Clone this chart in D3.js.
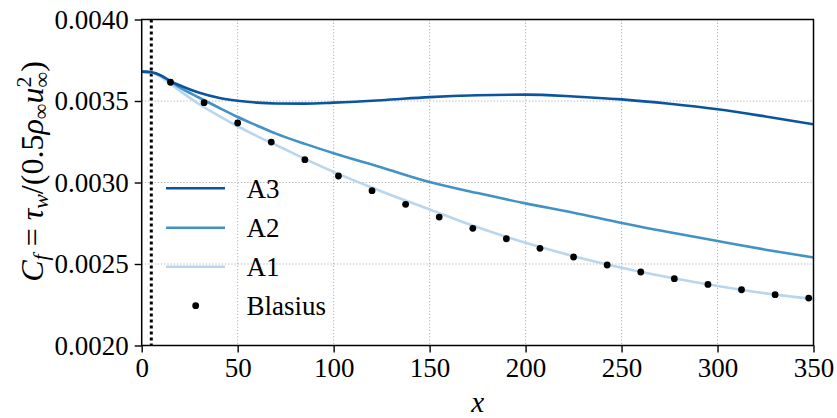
<!DOCTYPE html>
<html>
<head>
<meta charset="utf-8">
<script src="https://cdn.jsdelivr.net/npm/d3@7"></script>
<style>
  html, body { margin: 0; padding: 0; background: #fff; }
  svg { display: block; }
</style>
</head>
<body>
<svg id="chart" width="837" height="418"></svg>
<script>
// ---- data ----
const xTicks = [0, 50, 100, 150, 200, 250, 300, 350];
const yTicks = [0.0020, 0.0025, 0.0030, 0.0035, 0.0040];
const yTickLabels = ["0.0020", "0.0025", "0.0030", "0.0035", "0.0040"];

const curveX = [0, 5, 10, 15, 20, 30, 40, 50, 60, 70, 85, 100, 125, 150, 175, 200, 225, 250, 275, 300, 325, 350];
const A1 = [0.003680, 0.003674, 0.003648, 0.003605, 0.003562, 0.003480, 0.003410, 0.003345, 0.003285, 0.003230, 0.003145, 0.003065, 0.002945, 0.002835, 0.002725, 0.002630, 0.002548, 0.002477, 0.002417, 0.002365, 0.002320, 0.002285];
const A2 = [0.003680, 0.003676, 0.003655, 0.003620, 0.003582, 0.003520, 0.003460, 0.003402, 0.003350, 0.003300, 0.003237, 0.003180, 0.003092, 0.003003, 0.002935, 0.002872, 0.002815, 0.002752, 0.002695, 0.002641, 0.002588, 0.002540];
const A3 = [0.003680, 0.003676, 0.003657, 0.003622, 0.003595, 0.003550, 0.003520, 0.003502, 0.003490, 0.003485, 0.003484, 0.003490, 0.003505, 0.003524, 0.003535, 0.003539, 0.003528, 0.003510, 0.003483, 0.003449, 0.003405, 0.003357];

const blasiusX = [15, 32.5, 50, 67.5, 85, 102.5, 120, 137.5, 155, 172.5, 190, 207.5, 225, 242.5, 260, 277.5, 295, 312.5, 330, 347.5];
const blasiusY = [0.003615, 0.003490, 0.003365, 0.003248, 0.003140, 0.003040, 0.002950, 0.002866, 0.002788, 0.002719, 0.002655, 0.002596, 0.002543, 0.002494, 0.002451, 0.002410, 0.002375, 0.002342, 0.002312, 0.002291];

const markerX = 5;

const seriesColors = {"A3": "#0b559f", "A2": "#4292c6", "A1": "#b9d6ec"};
const seriesData = {"A1": A1, "A2": A2, "A3": A3};

// ---- layout ----
const svg = d3.select("#chart");
const pL = 141.7, pR = 813.5, pT = 19.5, pB = 345.5;
const x = d3.scaleLinear().domain([0, 350]).range([pL, pR]);
const y = d3.scaleLinear().domain([0.0020, 0.0040]).range([pB, pT]);
const FONT = '"Liberation Serif"';

function serif(sel) {
  return sel.attr("font-family", "Liberation Serif").style("font-family", FONT);
}

// grid
const grid = svg.append("g");
grid.selectAll("line.gx").data(xTicks.slice(1, -1)).enter().append("line")
  .attr("x1", d => x(d)).attr("x2", d => x(d)).attr("y1", pT).attr("y2", pB)
  .attr("stroke", "#b0b0b0").attr("stroke-width", 1).attr("stroke-dasharray", "1.2,2");
grid.selectAll("line.gy").data(yTicks.slice(1, -1)).enter().append("line")
  .attr("y1", d => y(d)).attr("y2", d => y(d)).attr("x1", pL).attr("x2", pR)
  .attr("stroke", "#b0b0b0").attr("stroke-width", 1).attr("stroke-dasharray", "1.2,2");

// vertical dotted marker
svg.append("line")
  .attr("x1", x(markerX)).attr("x2", x(markerX)).attr("y1", pT).attr("y2", pB)
  .attr("stroke", "#000").attr("stroke-width", 3).attr("stroke-dasharray", "3,3");

// curves
const line = d3.line().x((d, i) => x(curveX[i])).y(d => y(d)).curve(d3.curveMonotoneX);
["A1", "A2", "A3"].forEach(name => {
  svg.append("path").datum(seriesData[name])
    .attr("d", line).attr("fill", "none")
    .attr("stroke", seriesColors[name]).attr("stroke-width", 2.6);
});

// blasius dots
svg.append("g").selectAll("circle").data(blasiusY).enter().append("circle")
  .attr("cx", (d, i) => x(blasiusX[i])).attr("cy", d => y(d)).attr("r", 3.4).attr("fill", "#000");

// axes
const xAxis = d3.axisBottom(x).tickValues(xTicks).tickSize(7).tickPadding(5).tickFormat(d3.format("d"));
const yAxis = d3.axisLeft(y).tickValues(yTicks).tickSize(7).tickPadding(6).tickFormat((d, i) => yTickLabels[i]);
const gx = svg.append("g").attr("transform", `translate(0,${pB})`).call(xAxis);
const gy = svg.append("g").attr("transform", `translate(${pL},0)`).call(yAxis);
[gx, gy].forEach(g => {
  serif(g).attr("font-size", 27);
  g.select(".domain").remove();
  g.selectAll(".tick line").attr("stroke", "#000").attr("stroke-width", 1.4);
  serif(g.selectAll(".tick text")).attr("font-size", 27).attr("fill", "#000");
});
gx.selectAll(".tick text").attr("dy", "0.72em");

// frame
svg.append("rect").attr("x", pL).attr("y", pT).attr("width", pR - pL).attr("height", pB - pT)
  .attr("fill", "none").attr("stroke", "#000").attr("stroke-width", 1.5);

// axis labels
serif(svg.append("text")).attr("x", (pL + pR) / 2).attr("y", 412)
  .attr("font-size", 29).style("font-style", "italic")
  .attr("text-anchor", "middle").text("x");

const yl = serif(svg.append("text")).attr("font-size", 32)
  .attr("transform", `translate(43,${(pT + pB) / 2 - 11}) rotate(-90)`)
  .attr("text-anchor", "middle");
const sub = 22;
yl.append("tspan").style("font-style", "italic").text("C");
yl.append("tspan").style("font-style", "italic").attr("font-size", sub).attr("dy", 5).text("f");
yl.append("tspan").attr("dy", -5).text(" = ");
yl.append("tspan").style("font-style", "italic").text("τ");
yl.append("tspan").style("font-style", "italic").attr("font-size", sub).attr("dy", 5).text("w");
yl.append("tspan").attr("dy", -5).text("/(0.5");
yl.append("tspan").style("font-style", "italic").text("ρ");
yl.append("tspan").attr("font-size", sub).attr("dy", 5).text("∞");
yl.append("tspan").style("font-style", "italic").attr("dy", -5).text("u");
yl.append("tspan").attr("font-size", sub).attr("dy", -12).text("2");
yl.append("tspan").attr("font-size", sub).attr("dx", -11).attr("dy", 18).text("∞");
yl.append("tspan").attr("dy", -6).text(")");

// legend
const leg = svg.append("g");
const legRows = [
  {name: "A3", y: 188.3}, {name: "A2", y: 227.7}, {name: "A1", y: 266.7}, {name: "Blasius", y: 305.7}
];
legRows.forEach(r => {
  if (r.name === "Blasius") {
    leg.append("circle").attr("cx", 195.7).attr("cy", r.y).attr("r", 3.4).attr("fill", "#000");
  } else {
    leg.append("line").attr("x1", 166).attr("x2", 225).attr("y1", r.y).attr("y2", r.y)
      .attr("stroke", seriesColors[r.name]).attr("stroke-width", 2.6);
  }
  serif(leg.append("text")).attr("x", 246.5).attr("y", r.y + 9.5)
    .attr("font-size", 27).text(r.name);
});
</script>
</body>
</html>
